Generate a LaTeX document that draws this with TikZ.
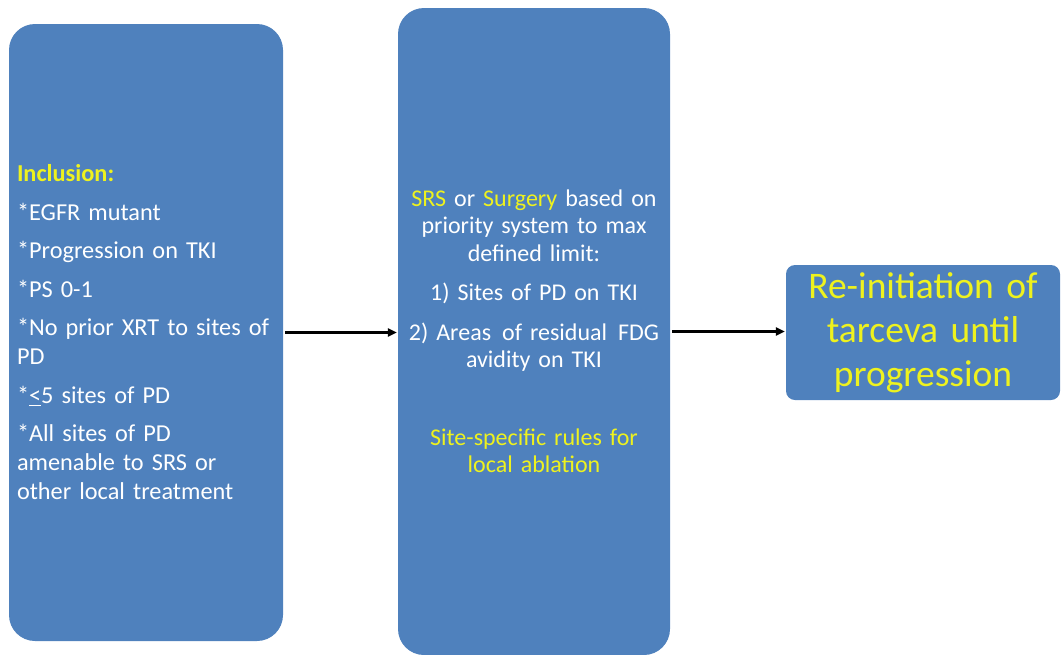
\documentclass[tikz,border=0pt]{standalone}
\usepackage{fontspec}
\setmainfont{Carlito}
\usetikzlibrary{arrows.meta}
\definecolor{boxblue}{RGB}{79,129,189}
\definecolor{hiyellow}{RGB}{238,242,30}
\tikzset{
  panel/.style={fill=boxblue, rounded corners=26pt, text=white, inner sep=6pt},
  goal/.style={fill=boxblue, rounded corners=9pt, text=hiyellow, inner sep=6pt},
  flowarrow/.style={-{Triangle[length=9pt,width=8pt]}, line width=2.2pt, black}
}
\begin{document}
\begin{tikzpicture}[x=1pt,y=-1pt]
  \def\hi#1{\textcolor{hiyellow}{#1}}
  \useasboundingbox (0,0) rectangle (1061,654);
  % inclusion criteria
  \node[panel, inner sep=8pt, minimum width=274pt, minimum height=617pt, text width=258pt, align=left,
        font=\fontsize{24.3}{29}\selectfont] (incl) at (146,332.5)
    {\hi{\textbf{Inclusion:}}\\[9.5pt]
     *EGFR mutant\\[9.5pt]
     *Progression on TKI\\[9.5pt]
     *PS 0-1\\[9.5pt]
     *No prior XRT to sites of\\
     PD\\[9.5pt]
     *\underline{<}5 sites of PD\\[9.5pt]
     *All sites of PD\\
     amenable to SRS or\\
     other local treatment};
  % local treatment
  \node[panel, minimum width=272pt, minimum height=647pt, text width=260pt, align=center,
        font=\fontsize{24}{27.5}\selectfont] (srs) at (534,331.5)
    {\hi{SRS} or \hi{Surgery} based on\\
     priority system to max\\
     defined limit:\\[12pt]
     1) Sites of PD on TKI\\[12pt]
     2) Areas\hspace{3pt} of residual\hspace{3pt} FDG\\
     avidity on TKI\\[50pt]
     \hi{Site-specific rules for}\\
     \hi{local ablation}};
  % outcome
  \node[goal, minimum width=274pt, minimum height=135pt, text width=262pt, align=center,
        font=\fontsize{37.5}{44}\selectfont] (tarc) at (923,332.5)
    {Re-initiation of\\ tarceva until\\ progression};
  \foreach \a/\b in {incl/srs, srs/tarc} {
      \draw[flowarrow, shorten <=2pt, shorten >=1pt] (\a.east) -- (\a.east -| \b.west); % arrow
  }
\end{tikzpicture}
\end{document}
